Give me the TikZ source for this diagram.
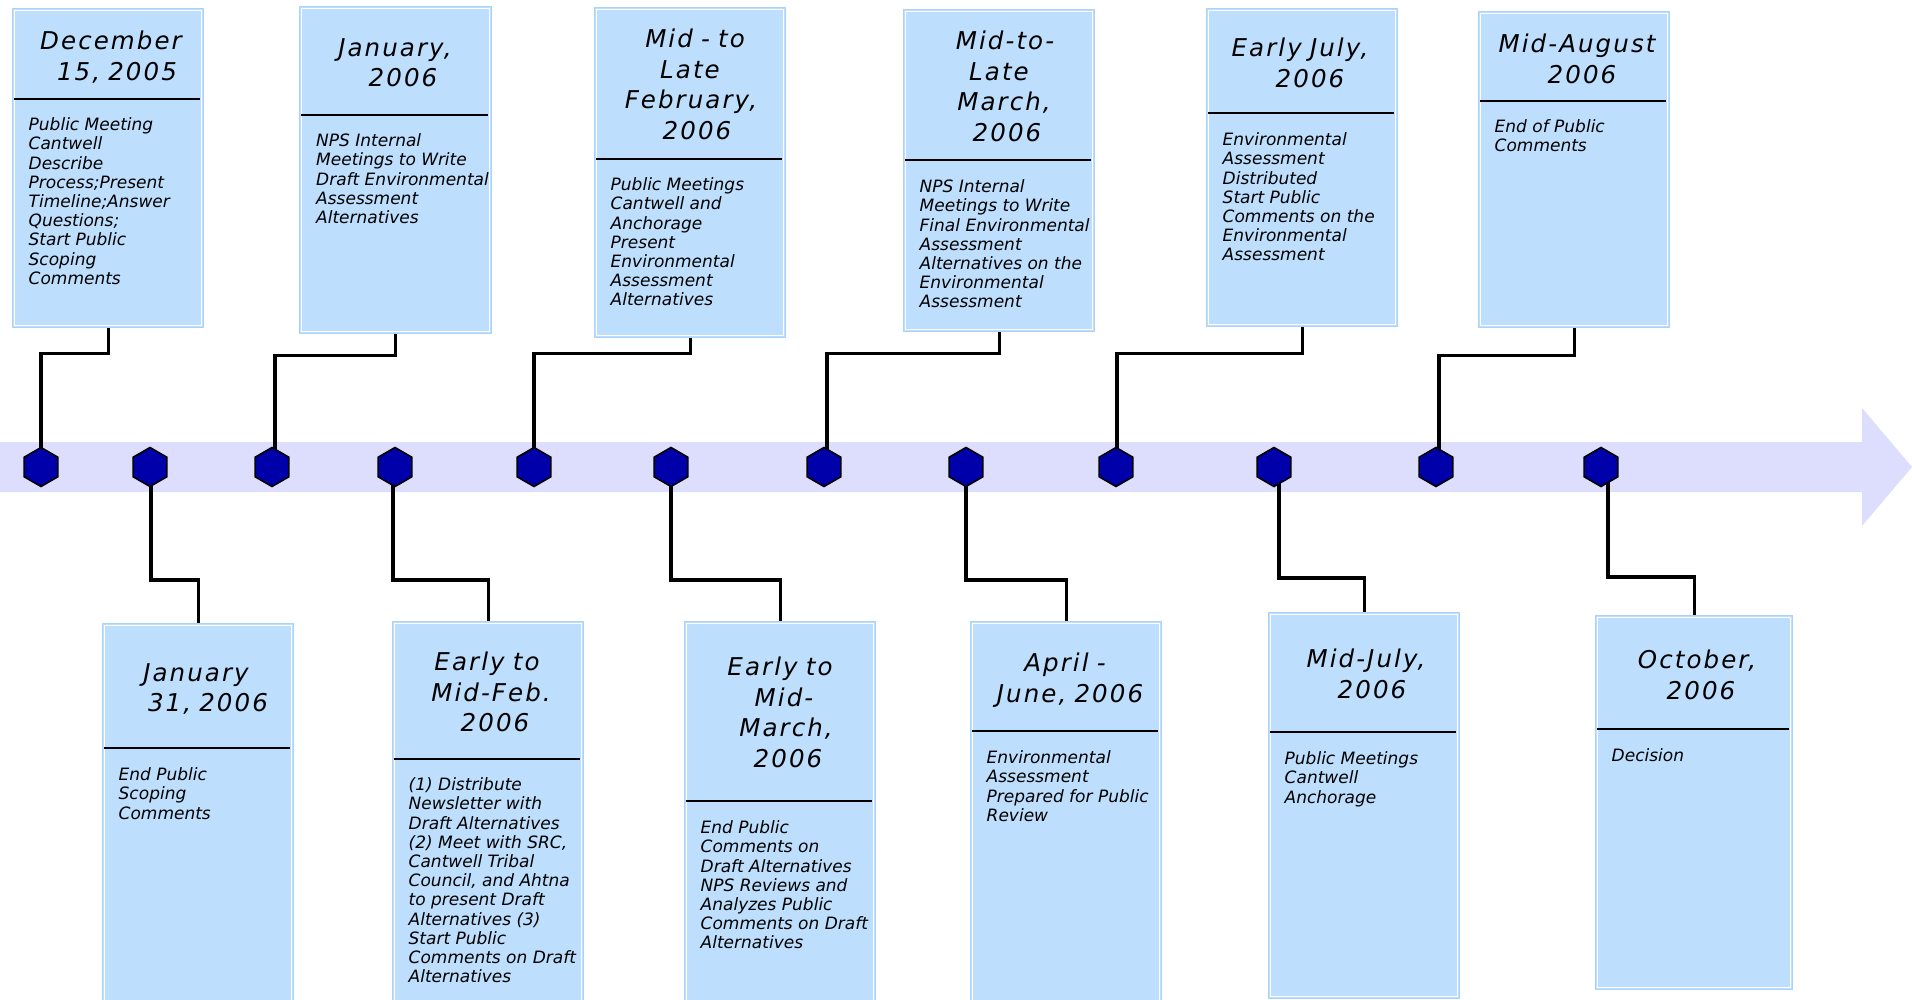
\documentclass[tikz,border=0pt]{standalone}
\usepackage{fontspec}
\setmainfont{DejaVu Sans}
\newfontfamily\hfont{DejaVu Sans Oblique}[LetterSpace=8.5]
\newfontfamily\bfont{DejaVu Sans Oblique}
\usetikzlibrary{shapes.geometric,backgrounds}
\definecolor{boxfill}{RGB}{189,223,253}
\definecolor{boxedge}{RGB}{170,210,250}
\definecolor{bandc}{RGB}{221,221,253}
\definecolor{hexc}{RGB}{0,0,170}
\newcommand\sh[1]{\hspace*{#1pt}}
\newcommand\tlframe[1]{\draw[white,line width=0.9pt] ([shift={(2.5,2.5)}]#1.north west) rectangle ([shift={(-2.5,-2.5)}]#1.south east);}
\newcommand\tlbox[5]{\node[tbox,anchor=north west,minimum width=#4pt,minimum height=#5pt] (#1) at (#2,#3) {};\tlframe{#1}}
\begin{document}
\begin{tikzpicture}[x=1pt,y=-1pt,
  tbox/.style={rectangle,fill=boxfill,draw=boxedge,line width=1.2pt,inner sep=0pt},
  head/.style={anchor=north,inner sep=0pt,text width=186pt,align=center,font=\hfont\fontsize{24.5}{30.5}\selectfont},
  body/.style={anchor=north west,inner sep=0pt,align=left,font=\bfont\fontsize{17}{19.2}\selectfont},
  divl/.style={line width=2pt,black},
  conn/.style={line width=3.2pt,black,line join=miter},
  hexa/.style={regular polygon,regular polygon sides=6,shape border rotate=30,minimum size=39pt,inner sep=0pt,fill=hexc,draw=black,line width=1.6pt}]
\useasboundingbox (0,0) rectangle (1912,1000);

% hexagons
\foreach \i/\xx in {1/41,2/150,3/272,4/395,5/534,6/671,7/824,8/966,9/1116,10/1274,11/1436,12/1601}
  {\node[hexa] (h\i) at (\xx,467) {};}

% top boxes
\tlbox{b1}{12}{8}{191}{319}
\tlbox{b2}{299}{6}{192}{327}
\tlbox{b3}{594}{7}{191}{330}
\tlbox{b4}{903}{9}{191}{322}
\tlbox{b5}{1206}{8}{191}{318}
\tlbox{b6}{1478}{11}{191}{316}
% bottom boxes
\tlbox{b7}{102}{623}{191}{380}
\tlbox{b8}{392}{621}{191}{382}
\tlbox{b9}{684}{621}{191}{382}
\tlbox{b10}{970}{621}{191}{382}
\tlbox{b11}{1268}{612}{191}{386}
\tlbox{b12}{1595}{615}{197}{374}

% dividers
\draw[divl] (14,99) -- (200,99);
\draw[divl] (301,115) -- (488,115);
\draw[divl] (596,159) -- (782,159);
\draw[divl] (905,160) -- (1091,160);
\draw[divl] (1208,113) -- (1394,113);
\draw[divl] (1480,101) -- (1666,101);
\draw[divl] (104,748) -- (290,748);
\draw[divl] (394,759) -- (580,759);
\draw[divl] (686,801) -- (872,801);
\draw[divl] (972,731) -- (1158,731);
\draw[divl] (1270,732) -- (1456,732);
\draw[divl] (1597,729) -- (1789,729);

% headers
\node[head] (t1) at (107.5,31) {\sh{7}December\\\sh{19}15, 2005};
\node[head] (t2) at (395,38) {January,\\\sh{16}2006};
\node[head] (t3) at (689.5,29) {\sh{11}Mid - to\\\sh{1}Late\\\sh{3}February,\\\sh{15}2006};
\node[head] (t4) at (998.5,31) {\sh{13}Mid-to-\\\sh{1}Late\\\sh{11}March,\\\sh{17}2006};
\node[head] (t5) at (1301.5,38) {\sh{-3}Early July,\\\sh{17}2006};
\node[head] (t6) at (1573.5,34) {\sh{7}Mid-August\\\sh{17}2006};
\node[head] (t7) at (197.5,663) {\sh{-3}January\\\sh{21}31, 2006};
\node[head] (t8) at (487.5,652) {\sh{-1}Early to\\\sh{7}Mid-Feb.\\\sh{15}2006};
\node[head] (t9) at (779.5,657) {\sh{1}Early to\\\sh{9}Mid-\\\sh{13}March,\\\sh{17}2006};
\node[head] (t10) at (1065.5,653) {\sh{-1}April -\\\sh{9}June, 2006};
\node[head] (t11) at (1363.5,649) {\sh{5}Mid-July,\\\sh{17}2006};
\node[head] (t12) at (1693.5,650) {\sh{7}October,\\\sh{15}2006};

% bodies
\node[body] (d1) at (28.5,117.5) {Public Meeting\\Cantwell\\Describe\\Process;Present\\Timeline;Answer\\Questions;\\Start Public\\Scoping\\Comments};
\node[body] (d2) at (316,133.5) {NPS Internal\\Meetings to Write\\Draft Environmental\\Assessment\\Alternatives};
\node[body] (d3) at (610.5,177.5) {Public Meetings\\Cantwell and\\Anchorage\\Present\\Environmental\\Assessment\\Alternatives};
\node[body] (d4) at (919.5,179.5) {NPS Internal\\Meetings to Write\\Final Environmental\\Assessment\\Alternatives on the\\Environmental\\Assessment};
\node[body] (d5) at (1222.5,132.5) {Environmental\\Assessment\\Distributed\\Start Public\\Comments on the\\Environmental\\Assessment};
\node[body] (d6) at (1494.5,119.5) {End of Public\\Comments};
\node[body] (d7) at (118.5,767.5) {End Public\\Scoping\\Comments};
\node[body] (d8) at (408.5,777.5) {(1) Distribute\\Newsletter with\\Draft Alternatives\\(2) Meet with SRC,\\Cantwell Tribal\\Council, and Ahtna\\to present Draft\\Alternatives (3)\\Start Public\\Comments on Draft\\Alternatives};
\node[body] (d9) at (700.5,820.5) {End Public\\Comments on\\Draft Alternatives\\NPS Reviews and\\Analyzes Public\\Comments on Draft\\Alternatives};
\node[body] (d10) at (986.5,750.5) {Environmental\\Assessment\\Prepared for Public\\Review};
\node[body] (d11) at (1284.5,751.5) {Public Meetings\\Cantwell\\Anchorage};
\node[body] (d12) at (1611.5,748.5) {Decision};

\begin{scope}[on background layer]
  \fill[bandc] (0,442) -- (1862,442) -- (1862,408) -- (1912,467) -- (1862,526) -- (1862,492) -- (0,492) -- cycle;
  % top connectors
  \draw[conn] (b1.south) -- ++(0,25) -| (h1.center);
  \draw[conn] (b2.south) -- ++(0,21) -| ([xshift=3pt]h3.center);
  \draw[conn] (b3.south) -- ++(0,15) -| (h5.center);
  \draw[conn] (b4.south) -- ++(0,21) -| ([xshift=3pt]h7.center);
  \draw[conn] (b5.south) -- ++(0,26) -| ([xshift=1pt]h9.center);
  \draw[conn] (b6.south) -- ++(0,27) -| ([xshift=3pt]h11.center);
  % bottom connectors
  \draw[conn] (b7.north) -- ++(0,-43) -| ([xshift=1pt]h2.center);
  \draw[conn] (b8.north) -- ++(0,-41) -| ([xshift=-2pt]h4.center);
  \draw[conn] (b9.north) -- ++(0,-41) -| (h6.center);
  \draw[conn] (b10.north) -- ++(0,-41) -| (h8.center);
  \draw[conn] (b11.north) -- ++(0,-34) -| ([xshift=5pt]h10.center);
  \draw[conn] (b12.north) -- ++(0,-38) -| ([xshift=7pt]h12.center);
\end{scope}
\end{tikzpicture}
\end{document}
